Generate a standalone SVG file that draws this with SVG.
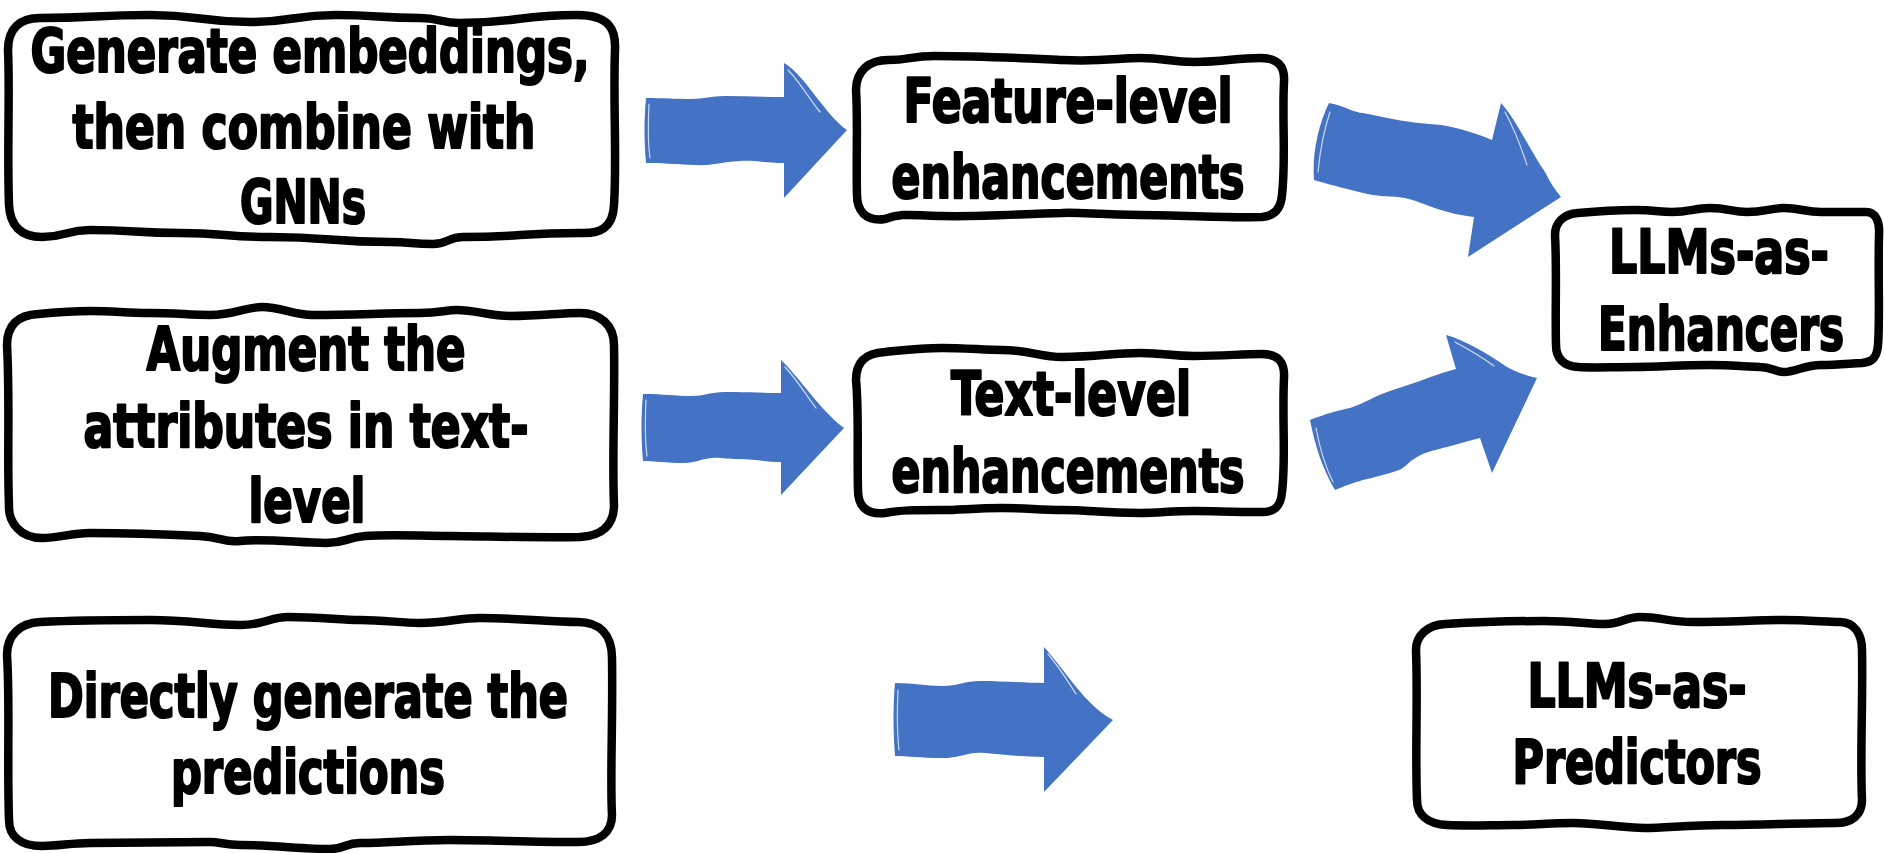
<svg xmlns="http://www.w3.org/2000/svg" width="1884" height="853" viewBox="0 0 1884 853">
  <style>
    .box { fill: #ffffff; stroke: #000000; stroke-width: 8.5; stroke-linejoin: round; }
    .arrow { fill: #4472C4; }
    .streak { fill: none; stroke: #ffffff; stroke-width: 1.2; stroke-opacity: 0.75; stroke-linecap: round; }
    .lbl { font-family: "DejaVu Sans Condensed", "DejaVu Sans", "Liberation Sans", sans-serif; font-weight: bold; font-size: 60px; fill: #000000; stroke: #000000; stroke-width: 2.2; stroke-linejoin: round; text-anchor: middle; }
  </style>

  <rect width="1884" height="853" fill="#ffffff"/>

  <!-- block arrows -->
  <g id="connectors">
    <!-- embeddings -> feature-level -->
    <path class="arrow" d="M 646 98 C 665 98 675 99 691 99 C 705 99 710 96 725 96 C 745 96 765 97 784 97 L 784 63 C 805 75 825 115 847 130 L 784 198 L 784 163 C 765 163 755 160 740 161 C 720 162 712 166 695 165 C 675 164 660 163 646 163 C 644 140 644 120 646 98 Z"/>
    <path class="streak" d="M 649 104 C 648 125 648 145 650 158 M 788 70 C 800 82 810 100 820 112"/>

    <!-- augment -> text-level -->
    <path class="arrow" d="M 643 394 C 665 394 675 396 691 396 C 705 396 710 392 725 392 C 750 392 765 393 781 393 L 781 360 C 800 378 820 410 844 428 L 781 495 L 781 462 C 765 462 755 459 739 459 C 725 459 720 457 712 458 C 700 459 695 463 685 463 C 665 463 655 461 643 461 C 641 440 641 415 643 394 Z"/>
    <path class="streak" d="M 646 400 C 645 420 645 440 647 456 M 785 367 C 797 380 807 396 816 408"/>

    <!-- feature-level -> enhancers -->
    <path class="arrow" d="M 1329 103 C 1345 106 1355 113 1363 113 C 1380 116 1395 120 1411 122 C 1425 124 1435 124 1441 125 C 1460 128 1478 134 1492 140 L 1501 103 C 1515 118 1530 150 1545 172 C 1550 182 1555 190 1561 197 L 1468 257 L 1474 217 C 1460 215 1450 213 1441 210 C 1425 205 1415 200 1405 198 C 1395 196 1388 197 1381 196 C 1370 195 1360 192 1351 190 C 1335 186 1325 183 1314 180 C 1312 155 1318 125 1329 103 Z"/>
    <path class="streak" d="M 1330 112 C 1324 130 1320 150 1318 172 M 1505 112 C 1515 130 1522 150 1527 165"/>

    <!-- text-level -> enhancers -->
    <path class="arrow" d="M 1310 420 C 1325 414 1340 410 1350 408 C 1365 403 1375 396 1387 392 C 1398 388 1408 385 1417 382 C 1430 377 1445 372 1456 369 L 1446 335 C 1465 340 1490 355 1507 367 C 1518 373 1528 376 1537 378 L 1492 473 L 1480 438 C 1468 441 1458 444 1447 447 C 1435 450 1425 452 1417 457 C 1408 462 1405 468 1399 470 C 1385 475 1375 477 1363 480 C 1352 483 1345 486 1335 490 C 1322 468 1315 445 1310 420 Z"/>
    <path class="streak" d="M 1316 428 C 1320 450 1326 468 1333 482 M 1455 342 C 1470 350 1483 358 1494 366"/>

    <!-- directly -> predictors -->
    <path class="arrow" d="M 895 683 C 915 683 925 686 942 686 C 958 686 965 681 980 681 C 1005 681 1025 683 1044 683 L 1044 647 C 1065 670 1085 705 1113 720 L 1044 792 L 1044 757 C 1025 757 1005 755 985 753 C 970 751 960 758 942 758 C 920 758 908 756 895 756 C 893 730 893 705 895 683 Z"/>
    <path class="streak" d="M 898 690 C 897 712 897 732 899 750 M 1048 654 C 1060 668 1068 682 1076 694"/>
  </g>

  <!-- Generate embeddings, then combine with GNNs -->
  <g id="node-embeddings">
    <path class="box" d="M 40 18 C 95 18 95 15 150 15 C 200 15 200 22 250 22 C 293 22 293 15 336 15 C 378 15 378 18 420 18 C 440 18 440 23 460 23 C 518 23 518 15 577 15 C 610 15 616 30 615 50 C 613 100 617 160 614 205 C 613 228 600 234 580 233 C 520 233 520 237 463 237 C 448 237 448 244 433 244 C 411 244 411 242 390 242 C 330 242 330 237 270 237 C 225 237 225 233 180 233 C 135 233 135 230 90 230 C 66 230 66 237 42 237 C 20 237 10 225 9 205 C 7 150 10 90 8 50 C 8 28 20 18 40 18 Z"/>
    <text class="lbl" x="310" y="72" textLength="559" lengthAdjust="spacingAndGlyphs">Generate embeddings,</text>
    <text class="lbl" x="304" y="148" textLength="463" lengthAdjust="spacingAndGlyphs">then combine with</text>
    <text class="lbl" x="303" y="223" textLength="126" lengthAdjust="spacingAndGlyphs">GNNs</text>
  </g>

  <!-- Feature-level enhancements -->
  <g id="node-feature">
    <path class="box" d="M 888 60 C 910 60 910 56 935 56 C 980 56 1020 58 1062 60 C 1100 62 1120 58 1140 58 C 1165 58 1170 62 1194 62 C 1225 62 1235 58 1260 58 C 1278 58 1285 66 1284 82 C 1282 120 1286 160 1282 195 C 1281 208 1275 216 1262 217 C 1230 218 1180 215 1140 215 C 1100 215 1080 212 1062 213 C 1020 214 980 217 942 216 C 910 215 900 213 885 219 C 865 222 857 210 857 195 C 856 160 858 120 856 90 C 856 70 870 60 888 60 Z"/>
    <text class="lbl" x="1068" y="122" textLength="329" lengthAdjust="spacingAndGlyphs">Feature-level</text>
    <text class="lbl" x="1068" y="198" textLength="353" lengthAdjust="spacingAndGlyphs">enhancements</text>
  </g>

  <!-- LLMs-as-Enhancers -->
  <g id="node-enhancers">
    <path class="box" d="M 1578 213 C 1600 211 1615 210 1635 210 C 1655 210 1660 212 1672 212 C 1690 212 1695 208 1710 208 C 1728 208 1732 212 1747 212 C 1765 212 1770 208 1784 208 C 1800 208 1805 212 1821 212 C 1840 212 1855 212 1866 212 C 1876 212 1880 222 1879 235 C 1878 280 1880 320 1878 345 C 1877 358 1872 362 1862 363 C 1845 364 1835 365 1821 365 C 1805 365 1795 372 1784 372 C 1775 372 1772 367 1760 367 C 1740 366 1725 365 1710 365 C 1680 365 1660 367 1635 367 C 1610 367 1595 368 1578 367 C 1563 366 1556 358 1556 345 C 1555 310 1557 270 1555 235 C 1555 222 1564 214 1578 213 Z"/>
    <text class="lbl" x="1719" y="273" textLength="220" lengthAdjust="spacingAndGlyphs">LLMs-as-</text>
    <text class="lbl" x="1721" y="350" textLength="246" lengthAdjust="spacingAndGlyphs">Enhancers</text>
  </g>

  <!-- Augment the attributes in text-level -->
  <g id="node-augment">
    <path class="box" d="M 38 314 C 60 312 70 311 90 311 C 115 311 125 313 150 313 C 175 313 190 315 210 315 C 235 315 245 307 262 307 C 280 307 295 315 312 315 C 360 315 380 313 420 313 C 440 313 445 310 457 310 C 475 310 490 316 510 316 C 540 316 560 313 580 313 C 600 313 614 325 614 345 C 615 400 612 460 614 505 C 614 525 602 536 580 537 C 530 538 480 536 450 536 C 420 536 390 534 365 536 C 345 538 345 543 326 543 C 300 543 265 538 240 541 C 225 543 220 537 200 536 C 160 534 120 533 90 533 C 70 533 60 538 42 538 C 20 538 8 522 9 505 C 7 460 10 400 7 345 C 7 325 18 315 38 314 Z"/>
    <text class="lbl" x="306" y="370" textLength="319" lengthAdjust="spacingAndGlyphs">Augment the</text>
    <text class="lbl" x="306" y="447" textLength="445" lengthAdjust="spacingAndGlyphs">attributes in text-</text>
    <text class="lbl" x="307" y="522" textLength="117" lengthAdjust="spacingAndGlyphs">level</text>
  </g>

  <!-- Text-level enhancements -->
  <g id="node-text">
    <path class="box" d="M 885 352 C 905 350 920 348 942 348 C 965 348 985 350 1002 350 C 1030 350 1040 357 1062 357 C 1100 357 1110 353 1140 353 C 1165 353 1170 356 1194 356 C 1225 356 1240 354 1262 354 C 1278 354 1285 362 1284 378 C 1282 420 1286 460 1282 492 C 1281 505 1276 512 1262 512 C 1230 512 1215 511 1194 511 C 1170 511 1160 513 1140 513 C 1100 513 1090 510 1062 510 C 1040 510 1025 508 1002 508 C 975 508 960 510 942 510 C 915 510 900 510 885 513 C 865 515 858 505 858 490 C 857 450 859 410 856 380 C 856 360 868 353 885 352 Z"/>
    <text class="lbl" x="1071" y="415" textLength="240" lengthAdjust="spacingAndGlyphs">Text-level</text>
    <text class="lbl" x="1068" y="492" textLength="353" lengthAdjust="spacingAndGlyphs">enhancements</text>
  </g>

  <!-- Directly generate the predictions -->
  <g id="node-directly">
    <path class="box" d="M 40 622 C 80 620 120 620 150 620 C 190 620 210 625 240 625 C 265 625 270 617 288 617 C 320 617 340 620 360 620 C 385 620 400 623 420 623 C 445 623 460 618 480 618 C 520 618 550 622 578 622 C 600 622 612 635 612 658 C 613 720 610 780 612 815 C 612 832 600 842 578 842 C 530 842 490 840 450 840 C 410 840 390 843 360 843 C 345 843 345 849 330 849 C 305 849 270 845 240 845 C 225 845 220 842 210 842 C 170 842 130 843 90 843 C 70 843 60 846 42 846 C 20 846 9 836 9 820 C 7 760 10 700 7 655 C 7 635 20 623 40 622 Z"/>
    <text class="lbl" x="308" y="717" textLength="520" lengthAdjust="spacingAndGlyphs">Directly generate the</text>
    <text class="lbl" x="308" y="793" textLength="274" lengthAdjust="spacingAndGlyphs">predictions</text>
  </g>

  <!-- LLMs-as-Predictors -->
  <g id="node-predictors">
    <path class="box" d="M 1445 624 C 1480 622 1510 621 1543 621 C 1575 621 1585 624 1605 624 C 1622 624 1625 617 1640 617 C 1660 617 1670 622 1693 622 C 1730 622 1755 620 1783 620 C 1810 620 1825 622 1840 622 C 1855 622 1862 635 1862 650 C 1863 700 1860 760 1862 800 C 1862 815 1852 823 1835 823 C 1800 823 1760 825 1723 825 C 1690 825 1665 828 1645 828 C 1620 828 1600 823 1573 823 C 1550 823 1535 825 1513 825 C 1490 825 1470 826 1447 825 C 1428 824 1417 815 1417 800 C 1415 750 1418 700 1416 650 C 1416 635 1428 625 1445 624 Z"/>
    <text class="lbl" x="1637" y="707" textLength="219" lengthAdjust="spacingAndGlyphs">LLMs-as-</text>
    <text class="lbl" x="1637" y="783" textLength="249" lengthAdjust="spacingAndGlyphs">Predictors</text>
  </g>
</svg>
